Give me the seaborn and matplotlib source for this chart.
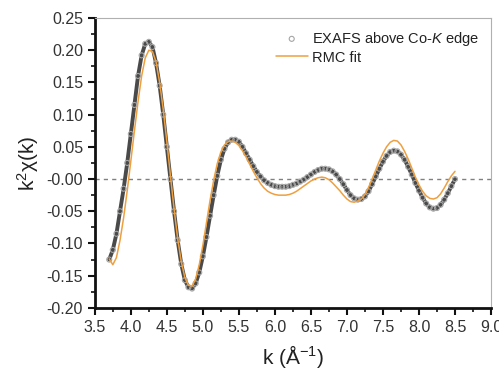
import numpy as np
import pandas as pd
import matplotlib
matplotlib.use("Agg")
import matplotlib.pyplot as plt
import seaborn as sns

# k grid (A^-1) for both curves
k = np.round(np.arange(3.70, 8.501, 0.05), 2)

# EXAFS above Co-K edge
exafs = [
    -0.125, -0.110, -0.085, -0.050, -0.015, 0.025, 0.070, 0.115, 0.160, 0.192,
    0.210, 0.213, 0.205, 0.180, 0.145, 0.100, 0.050, 0.000, -0.050, -0.095,
    -0.132, -0.157, -0.168, -0.170, -0.162, -0.145, -0.120, -0.090, -0.057, -0.025,
    0.005, 0.030, 0.047, 0.057, 0.061, 0.061, 0.058, 0.050, 0.040, 0.030,
    0.020, 0.011, 0.004, -0.002, -0.006, -0.009, -0.011, -0.012, -0.012, -0.012,
    -0.011, -0.009, -0.007, -0.004, -0.001, 0.003, 0.007, 0.011, 0.014, 0.016,
    0.016, 0.015, 0.012, 0.007, 0.000, -0.008, -0.017, -0.025, -0.030, -0.032,
    -0.031, -0.027, -0.019, -0.008, 0.004, 0.016, 0.027, 0.036, 0.042, 0.044,
    0.043, 0.038, 0.030, 0.019, 0.007, -0.006, -0.018, -0.029, -0.038, -0.044,
    -0.046, -0.045, -0.040, -0.032, -0.022, -0.011, 0.000,
]

# RMC fit
rmc = [
    -0.124, -0.133, -0.122, -0.095, -0.060, -0.018, 0.028, 0.075, 0.120, 0.160,
    0.188, 0.200, 0.198, 0.182, 0.150, 0.108, 0.058, 0.005, -0.046, -0.092,
    -0.128, -0.153, -0.165, -0.166, -0.155, -0.133, -0.103, -0.068, -0.033, -0.002,
    0.024, 0.042, 0.053, 0.058, 0.059, 0.057, 0.052, 0.044, 0.034, 0.023,
    0.012, 0.002, -0.007, -0.014, -0.019, -0.022, -0.024, -0.025, -0.025, -0.025,
    -0.024, -0.022, -0.019, -0.015, -0.011, -0.007, -0.003, 0.000, 0.002, 0.003,
    0.002, -0.001, -0.006, -0.012, -0.018, -0.025, -0.031, -0.035, -0.036, -0.034,
    -0.031, -0.024, -0.013, 0.000, 0.014, 0.028, 0.040, 0.050, 0.057, 0.060,
    0.059, 0.053, 0.043, 0.031, 0.017, 0.003, -0.009, -0.019, -0.026, -0.030,
    -0.031, -0.029, -0.023, -0.014, -0.004, 0.005, 0.012,
]

df = pd.DataFrame({"k": k, "exafs": exafs, "rmc": rmc})

sns.set_style("ticks")
plt.rcParams["font.family"] = ["Liberation Sans", "DejaVu Sans"]
plt.rcParams["mathtext.fontset"] = "custom"
plt.rcParams["mathtext.rm"] = "Liberation Sans"
plt.rcParams["mathtext.it"] = "Liberation Sans:italic"

fig = plt.figure(figsize=(4.99, 3.75), dpi=100)
ax = fig.add_axes([0.190, 0.179, 0.794, 0.773])

# data: gray band + open circles
sns.lineplot(data=df, x="k", y="exafs", ax=ax, color="#4a4a4a", linewidth=2.8, zorder=2)
sns.scatterplot(data=df, x="k", y="exafs", ax=ax, marker="o", s=13,
                facecolor="none", edgecolor="#a5a5a5", linewidth=0.8, zorder=3,
                label="EXAFS above Co-$K$ edge")
sns.lineplot(data=df, x="k", y="rmc", ax=ax, color="#EEA040", linewidth=1.1,
             zorder=4, label="RMC fit")

ax.axhline(0, color="#808080", linestyle=(0, (3, 3)), linewidth=1.0, zorder=1)

ax.set_xlim(3.5, 9.0)
ax.set_ylim(-0.20, 0.25)
ax.set_xticks(np.arange(3.5, 9.01, 0.5))
ax.set_yticks(np.arange(-0.20, 0.251, 0.05))
ax.set_xticks(np.arange(3.75, 9.0, 0.5), minor=True)
ax.set_yticks(np.arange(-0.175, 0.25, 0.05), minor=True)
ax.xaxis.set_major_formatter(matplotlib.ticker.FormatStrFormatter("%.1f"))
ax.yaxis.set_major_formatter(matplotlib.ticker.FormatStrFormatter("%.2f"))

for side in ["left", "bottom"]:
    ax.spines[side].set_linewidth(2.0)
    ax.spines[side].set_color("#111111")
for side in ["top", "right"]:
    ax.spines[side].set_visible(True)
    ax.spines[side].set_linewidth(0.8)
    ax.spines[side].set_color("#b0b0b0")

ax.tick_params(which="major", direction="out", length=5, width=1.5,
               labelsize=11.5, labelcolor="#333333", color="#111111",
               top=False, right=False)
ax.tick_params(which="minor", direction="out", length=3, width=1.2,
               color="#111111", top=False, right=False)

ax.set_xlabel("k (Å$^{-1}$)", fontsize=15, color="#222222", labelpad=6)
ax.set_ylabel("k$^2$χ(k)", fontsize=15, color="#222222", labelpad=4)

leg = ax.legend(loc="upper right", frameon=False, fontsize=10.5,
                handlelength=2.2, handletextpad=0.3, labelspacing=0.2,
                borderaxespad=0.4)
for t in leg.get_texts():
    t.set_color("#222222")

plt.savefig("out.png", dpi=100)
